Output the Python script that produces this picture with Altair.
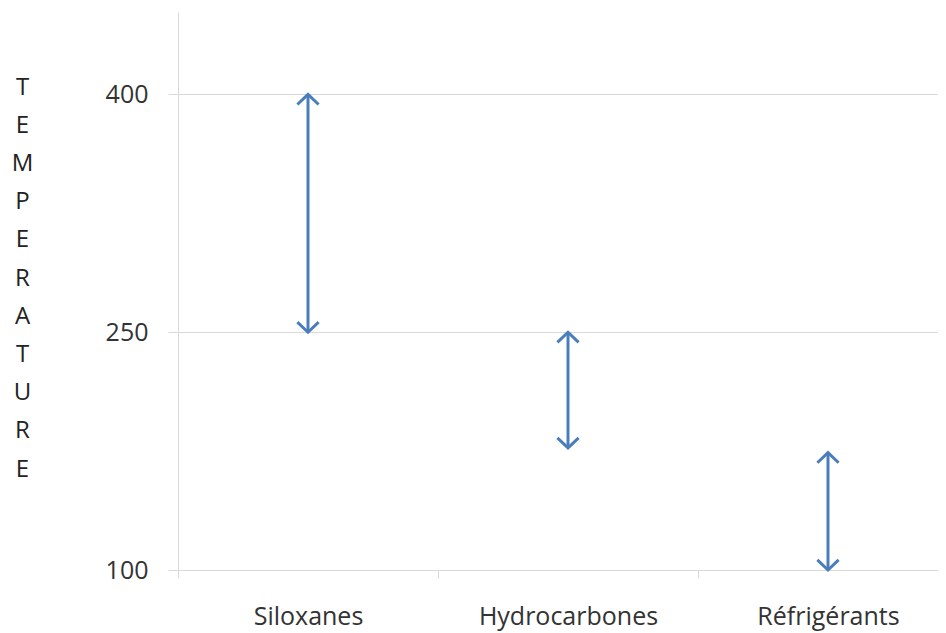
import altair as alt
import pandas as pd

categories = ["Siloxanes", "Hydrocarbones", "Réfrigérants"]
t_min = [250, 177, 100]
t_max = [400, 250, 174]
y_ticks = [100, 250, 400]
title_letters = list("TEMPERATURE")

df = pd.DataFrame({"cat": categories, "t_min": t_min, "t_max": t_max})

FONT = "Open Sans"
BLUE = "#4a7ebb"
GRID = "#d9d9d9"

xenc = alt.X("cat:N", sort=categories,
             scale=alt.Scale(range=[0, 780], paddingInner=0, paddingOuter=0),
             axis=alt.Axis(title=None, labelAngle=0, labelFontSize=25, labelFont=FONT,
                           labelColor="#333333", domainColor=GRID, tickColor=GRID,
                           tickSize=8, tickBand="extent", labelPadding=26, grid=False))
ydomain = alt.Scale(domain=[100, 452], nice=False, zero=False)
yaxis = alt.Axis(values=y_ticks, grid=True, gridColor=GRID, domainColor=GRID,
                 tickColor=GRID, tickSize=10, labelPadding=20, labelFontSize=25,
                 labelFont=FONT, labelColor="#333333",
                 title=title_letters, titleAngle=0, titleAlign="center",
                 titleBaseline="top", titleX=-156, titleY=63, titleLineHeight=38.2,
                 titleFont=FONT, titleFontSize=24, titleFontWeight="normal",
                 titleColor="#222222")

base = alt.Chart(df)

shaft = base.mark_rule(color=BLUE, strokeWidth=3).encode(
    x=xenc,
    y=alt.Y("t_min:Q", scale=ydomain, axis=yaxis),
    y2="t_max:Q",
)

tops = base.mark_point(shape="M-1,0.95L0,0L1,0.95", filled=False, color=BLUE,
                       strokeWidth=3, size=450, opacity=1).encode(
    x=alt.X("cat:N", sort=categories),
    y=alt.Y("t_max:Q", scale=ydomain),
)

bottoms = base.mark_point(shape="M-1,-0.95L0,0L1,-0.95", filled=False, color=BLUE,
                          strokeWidth=3, size=450, opacity=1).encode(
    x=alt.X("cat:N", sort=categories),
    y=alt.Y("t_min:Q", scale=ydomain),
)

chart = alt.layer(shaft, tops, bottoms).properties(
    width=760, height=558,
    autosize=alt.AutoSizeParams(type="none"),
    padding={"left": 170, "top": 4, "right": 0, "bottom": 63},
).configure_view(strokeWidth=0)

chart.save("out.html", embed_options={"renderer": "svg", "actions": False})
